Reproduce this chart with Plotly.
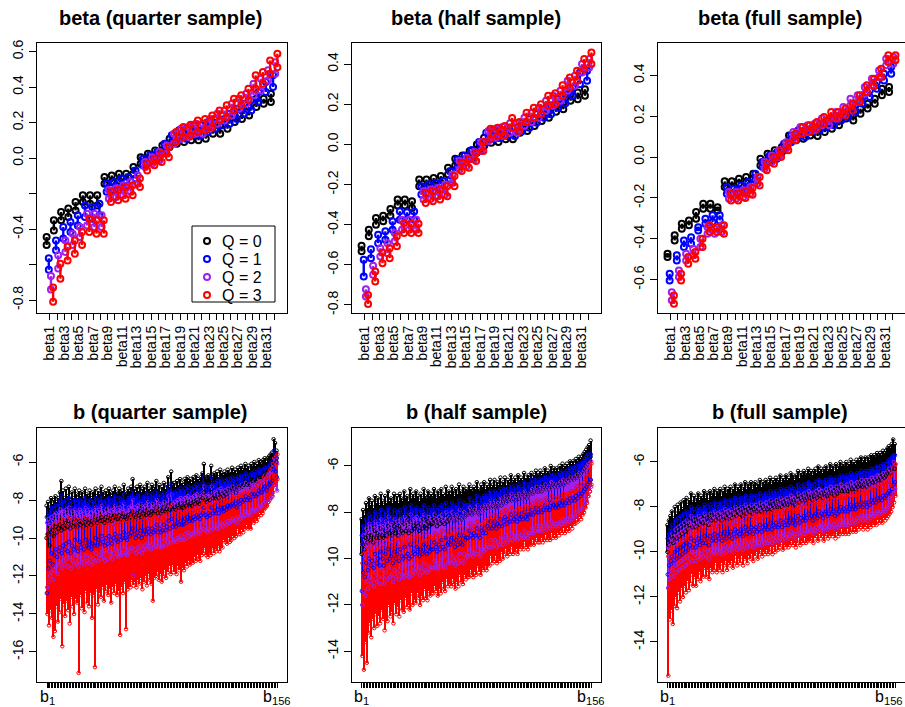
import plotly.graph_objects as go

FONT = "Liberation Sans, Arial, Helvetica, sans-serif"
COLORS = ["#000000", "#0000FF", "#A020F0", "#FF0000"]
Q_NAMES = ["Q = 0", "Q = 1", "Q = 2", "Q = 3"]

beta_cats = list(range(1, 33))
beta_ticktext = ["beta%d" % i if i % 2 == 1 else "" for i in beta_cats]
b_cats = list(range(1, 157))
b_end_labels = ["b<sub>1</sub>", "b<sub>156</sub>"]

# ---------------- beta, quarter sample (lo / hi of each box) ----------------
tq_q0_hi = [-0.445,-0.351,-0.304,-0.285,-0.248,-0.21,-0.21,-0.21,-0.107,-0.098,-0.088,-0.088,-0.05,0.005,0.024,0.043,0.071,0.109,0.118,0.137,0.146,0.146,0.156,0.175,0.184,0.22,0.24,0.268,0.287,0.334,0.334,0.362]
tq_q0_lo = [-0.49,-0.408,-0.351,-0.332,-0.295,-0.248,-0.257,-0.267,-0.145,-0.135,-0.126,-0.126,-0.088,-0.032,-0.004,0.005,0.024,0.062,0.08,0.09,0.1,0.1,0.109,0.137,0.137,0.165,0.203,0.22,0.24,0.287,0.306,0.315]
tq_q1_hi = [-0.565,-0.464,-0.389,-0.36,-0.323,-0.267,-0.276,-0.257,-0.145,-0.135,-0.116,-0.107,-0.07,-0.004,0.015,0.034,0.08,0.128,0.156,0.165,0.184,0.184,0.203,0.22,0.24,0.25,0.278,0.306,0.325,0.372,0.428,0.466]
tq_q1_lo = [-0.63,-0.52,-0.454,-0.417,-0.38,-0.332,-0.342,-0.323,-0.19,-0.18,-0.163,-0.154,-0.116,-0.041,-0.022,-0.004,0.034,0.08,0.1,0.109,0.128,0.128,0.146,0.165,0.184,0.193,0.22,0.25,0.268,0.315,0.372,0.4]
tq_q2_hi = [-0.665,-0.548,-0.464,-0.426,-0.389,-0.314,-0.314,-0.323,-0.18,-0.17,-0.154,-0.135,-0.098,-0.022,0.005,0.034,0.071,0.137,0.165,0.175,0.193,0.193,0.22,0.25,0.268,0.306,0.334,0.362,0.419,0.447,0.494,0.54]
tq_q2_lo = [-0.74,-0.623,-0.53,-0.49,-0.445,-0.38,-0.389,-0.389,-0.23,-0.22,-0.21,-0.19,-0.145,-0.05,-0.032,-0.013,0.024,0.08,0.109,0.118,0.137,0.137,0.165,0.193,0.212,0.24,0.278,0.306,0.353,0.381,0.437,0.475]
tq_q3_hi = [-0.73,-0.595,-0.5,-0.464,-0.417,-0.342,-0.351,-0.351,-0.19,-0.18,-0.163,-0.154,-0.116,-0.032,-0.004,0.024,0.062,0.146,0.175,0.188,0.212,0.22,0.24,0.268,0.297,0.334,0.353,0.39,0.466,0.484,0.55,0.588]
tq_q3_lo = [-0.81,-0.68,-0.577,-0.539,-0.49,-0.417,-0.426,-0.426,-0.248,-0.238,-0.229,-0.21,-0.163,-0.07,-0.041,-0.022,0.005,0.09,0.118,0.128,0.146,0.156,0.175,0.212,0.231,0.268,0.297,0.325,0.39,0.419,0.475,0.512]

# ---------------- beta, half sample ----------------
th_q0_hi = [-0.505,-0.425,-0.367,-0.355,-0.322,-0.275,-0.275,-0.283,-0.175,-0.175,-0.167,-0.158,-0.117,-0.072,-0.055,-0.033,0.0,0.033,0.05,0.05,0.055,0.058,0.092,0.1,0.125,0.15,0.167,0.192,0.208,0.25,0.258,0.275]
th_q0_lo = [-0.533,-0.458,-0.4,-0.383,-0.355,-0.305,-0.305,-0.317,-0.208,-0.208,-0.2,-0.192,-0.15,-0.105,-0.083,-0.067,-0.042,-0.008,0.008,0.012,0.025,0.025,0.058,0.067,0.092,0.117,0.133,0.162,0.175,0.217,0.225,0.242]
th_q1_hi = [-0.575,-0.522,-0.45,-0.433,-0.383,-0.333,-0.338,-0.335,-0.208,-0.2,-0.192,-0.183,-0.133,-0.075,-0.055,-0.028,0.012,0.058,0.072,0.075,0.083,0.083,0.108,0.125,0.15,0.175,0.195,0.225,0.25,0.283,0.358,0.367]
th_q1_lo = [-0.658,-0.567,-0.492,-0.475,-0.425,-0.375,-0.375,-0.375,-0.25,-0.242,-0.233,-0.225,-0.175,-0.117,-0.092,-0.072,-0.033,0.008,0.025,0.033,0.042,0.042,0.067,0.083,0.108,0.133,0.15,0.183,0.205,0.242,0.3,0.317]
th_q2_hi = [-0.722,-0.605,-0.517,-0.492,-0.442,-0.375,-0.375,-0.375,-0.233,-0.225,-0.217,-0.2,-0.15,-0.083,-0.067,-0.038,0.012,0.067,0.078,0.088,0.105,0.105,0.133,0.158,0.183,0.217,0.242,0.267,0.317,0.342,0.4,0.425]
th_q2_lo = [-0.758,-0.65,-0.558,-0.542,-0.483,-0.425,-0.425,-0.425,-0.275,-0.272,-0.258,-0.25,-0.192,-0.125,-0.108,-0.075,-0.033,0.017,0.033,0.042,0.058,0.058,0.092,0.112,0.133,0.167,0.192,0.217,0.267,0.292,0.358,0.383]
th_q3_hi = [-0.75,-0.633,-0.538,-0.517,-0.458,-0.392,-0.395,-0.395,-0.242,-0.233,-0.225,-0.208,-0.158,-0.092,-0.075,-0.042,0.012,0.078,0.083,0.092,0.132,0.112,0.158,0.183,0.2,0.242,0.255,0.295,0.333,0.367,0.425,0.458]
th_q3_lo = [-0.795,-0.683,-0.592,-0.567,-0.508,-0.442,-0.442,-0.442,-0.292,-0.283,-0.275,-0.258,-0.208,-0.133,-0.117,-0.083,-0.033,0.028,0.042,0.045,0.083,0.067,0.112,0.133,0.15,0.192,0.2,0.242,0.283,0.317,0.375,0.4]

# ---------------- beta, full sample ----------------
tf_q0_hi = [-0.473,-0.383,-0.326,-0.31,-0.269,-0.228,-0.228,-0.245,-0.119,-0.119,-0.106,-0.098,-0.082,-0.008,0.016,0.033,0.049,0.106,0.114,0.122,0.131,0.131,0.147,0.163,0.179,0.212,0.204,0.237,0.261,0.285,0.334,0.343]
tf_q0_lo = [-0.489,-0.408,-0.351,-0.334,-0.302,-0.253,-0.253,-0.261,-0.147,-0.147,-0.13,-0.122,-0.106,-0.041,-0.016,0.0,0.024,0.073,0.082,0.09,0.106,0.103,0.122,0.139,0.155,0.188,0.179,0.212,0.237,0.261,0.302,0.318]
tf_q1_hi = [-0.571,-0.481,-0.408,-0.392,-0.343,-0.302,-0.285,-0.285,-0.147,-0.155,-0.139,-0.122,-0.082,-0.024,0.008,0.024,0.065,0.106,0.131,0.126,0.147,0.163,0.179,0.188,0.212,0.228,0.253,0.294,0.326,0.367,0.408,0.44]
tf_q1_lo = [-0.604,-0.506,-0.44,-0.424,-0.359,-0.326,-0.318,-0.31,-0.179,-0.179,-0.171,-0.155,-0.114,-0.049,-0.024,-0.008,0.033,0.073,0.098,0.098,0.122,0.131,0.147,0.155,0.179,0.196,0.22,0.261,0.294,0.334,0.375,0.408]
tf_q2_hi = [-0.661,-0.555,-0.473,-0.449,-0.4,-0.343,-0.351,-0.334,-0.171,-0.171,-0.163,-0.147,-0.098,-0.024,0.008,0.033,0.073,0.122,0.147,0.155,0.163,0.188,0.188,0.22,0.245,0.285,0.302,0.343,0.383,0.424,0.481,0.49]
tf_q2_lo = [-0.701,-0.587,-0.506,-0.481,-0.44,-0.375,-0.375,-0.367,-0.204,-0.204,-0.196,-0.179,-0.13,-0.057,-0.024,0.0,0.041,0.09,0.114,0.122,0.131,0.155,0.155,0.188,0.212,0.253,0.269,0.31,0.351,0.392,0.449,0.457]
tf_q3_hi = [-0.677,-0.571,-0.489,-0.465,-0.4,-0.334,-0.343,-0.334,-0.179,-0.179,-0.168,-0.152,-0.098,-0.033,0.0,0.033,0.065,0.114,0.147,0.155,0.171,0.196,0.22,0.22,0.237,0.261,0.302,0.351,0.383,0.432,0.498,0.498]
tf_q3_lo = [-0.718,-0.604,-0.522,-0.498,-0.44,-0.367,-0.367,-0.375,-0.212,-0.212,-0.2,-0.184,-0.139,-0.065,-0.033,0.0,0.033,0.082,0.114,0.122,0.139,0.163,0.188,0.188,0.204,0.228,0.269,0.318,0.347,0.392,0.465,0.473]

# ---------------- b, quarter sample (whisker ends of each box) ----------------
bq_q0_hi = [-8.3,-8.1,-8.4,-7.9,-8.2,-8.0,-7.8,-8.1,-7.9,-7.6,-7.0,-7.5,-7.9,-7.4,-7.8,-7.3,-8.0,-7.6,-7.9,-7.4,-7.7,-7.9,-7.5,-7.8,-7.6,-7.9,-7.4,-7.7,-7.8,-7.5,-7.9,-7.6,-7.7,-7.4,-7.8,-7.5,-7.7,-7.3,-7.6,-7.8,-7.5,-7.7,-7.4,-7.6,-7.8,-7.5,-7.3,-7.6,-7.7,-7.4,-7.6,-7.5,-7.2,-7.6,-7.7,-7.4,-7.5,-7.3,-6.9,-7.4,-7.6,-7.3,-7.5,-7.2,-7.6,-7.4,-7.3,-7.5,-7.1,-7.4,-7.5,-7.2,-7.4,-7.3,-7.0,-7.4,-7.2,-7.5,-7.3,-7.1,-7.4,-7.2,-6.8,-7.3,-6.5,-7.2,-7.1,-7.3,-7.0,-7.2,-6.9,-7.1,-7.2,-6.9,-7.1,-6.8,-7.0,-6.9,-7.1,-6.8,-7.0,-6.7,-6.9,-7.0,-6.8,-6.6,-6.1,-6.8,-6.9,-6.7,-6.8,-6.2,-6.8,-6.6,-6.7,-6.5,-6.8,-6.4,-6.6,-6.7,-6.5,-6.6,-6.4,-6.6,-6.5,-6.3,-6.5,-6.4,-6.6,-6.3,-6.4,-6.2,-6.4,-6.3,-6.1,-6.3,-6.2,-6.4,-6.1,-6.2,-6.0,-6.2,-6.1,-5.9,-6.0,-6.1,-5.9,-5.8,-6.0,-5.8,-5.7,-5.6,-5.5,-4.8,-5.0,-5.4]
bq_q0_lo = [-10.0,-9.8,-10.4,-9.7,-9.6,-9.9,-9.4,-9.7,-9.5,-9.3,-9.6,-9.4,-9.5,-9.2,-9.4,-9.1,-9.5,-9.3,-9.4,-9.0,-9.3,-9.4,-9.1,-9.3,-9.2,-9.4,-9.0,-9.3,-9.2,-9.0,-9.3,-9.1,-9.2,-8.9,-9.2,-9.0,-9.1,-8.9,-9.1,-9.2,-8.9,-9.1,-8.8,-9.0,-9.1,-8.9,-8.8,-9.0,-9.0,-8.8,-9.0,-8.9,-8.7,-8.9,-9.0,-8.8,-8.9,-8.7,-8.6,-8.8,-8.9,-8.7,-8.8,-8.6,-8.9,-8.7,-8.6,-8.8,-8.5,-8.7,-8.8,-8.6,-8.7,-8.6,-8.4,-8.7,-8.5,-8.7,-8.6,-8.4,-8.6,-8.5,-8.3,-8.5,-8.2,-8.5,-8.4,-8.5,-8.3,-8.4,-8.2,-8.4,-8.4,-8.2,-8.3,-8.1,-8.3,-8.2,-8.3,-8.1,-8.2,-8.0,-8.1,-8.2,-8.0,-7.9,-7.6,-8.0,-8.1,-7.9,-8.0,-7.6,-7.9,-7.8,-7.9,-7.7,-7.9,-7.6,-7.7,-7.8,-7.6,-7.7,-7.5,-7.6,-7.5,-7.4,-7.5,-7.4,-7.6,-7.3,-7.4,-7.2,-7.3,-7.2,-7.0,-7.2,-7.1,-7.2,-6.9,-7.0,-6.9,-7.0,-6.9,-6.7,-6.8,-6.8,-6.6,-6.5,-6.7,-6.5,-6.4,-6.3,-6.2,-5.6,-5.7,-6.0]
bq_q1_hi = [-8.9,-8.6,-8.8,-8.4,-8.7,-8.5,-8.3,-8.6,-8.2,-8.0,-7.8,-8.1,-8.4,-8.0,-8.3,-7.9,-8.5,-8.1,-8.4,-8.0,-8.2,-8.4,-8.0,-8.3,-8.1,-8.4,-7.9,-8.2,-8.3,-8.0,-8.4,-8.1,-8.2,-7.9,-8.3,-8.0,-8.2,-7.8,-8.1,-8.3,-8.0,-8.2,-7.9,-8.1,-8.3,-8.0,-7.8,-8.1,-8.2,-7.9,-8.1,-8.0,-7.7,-8.1,-8.2,-7.9,-8.0,-7.8,-7.5,-7.9,-8.1,-7.8,-8.0,-7.7,-8.1,-7.9,-7.8,-8.0,-7.6,-7.9,-8.0,-7.7,-7.9,-7.8,-7.5,-7.9,-7.7,-8.0,-7.8,-7.6,-7.9,-7.7,-7.3,-7.8,-7.1,-7.7,-7.6,-7.8,-7.5,-7.7,-7.4,-7.6,-7.7,-7.4,-7.6,-7.3,-7.5,-7.4,-7.6,-7.3,-7.5,-7.2,-7.4,-7.5,-7.3,-7.1,-6.8,-7.3,-7.4,-7.2,-7.3,-6.8,-7.3,-7.1,-7.2,-7.0,-7.3,-6.9,-7.1,-7.2,-7.0,-7.1,-6.9,-7.1,-7.0,-6.8,-7.0,-6.9,-7.1,-6.8,-6.9,-6.7,-6.9,-6.8,-6.6,-6.8,-6.7,-6.9,-6.6,-6.7,-6.5,-6.7,-6.6,-6.4,-6.5,-6.6,-6.4,-6.3,-6.5,-6.3,-6.2,-6.1,-6.0,-5.4,-5.5,-5.8]
bq_q1_lo = [-12.9,-11.6,-11.2,-10.8,-11.4,-10.9,-10.6,-11.0,-10.7,-10.5,-10.8,-10.4,-10.6,-10.3,-10.7,-10.2,-10.8,-10.4,-10.6,-10.1,-10.5,-10.7,-10.2,-10.5,-10.3,-10.6,-10.1,-10.4,-10.5,-10.2,-10.6,-10.3,-10.4,-10.0,-10.4,-10.1,-10.3,-9.9,-10.2,-10.4,-10.0,-10.3,-9.9,-10.1,-10.3,-10.0,-9.8,-10.1,-10.2,-9.9,-10.1,-10.0,-9.7,-10.0,-10.1,-9.8,-9.9,-9.7,-9.5,-9.8,-10.0,-9.7,-9.9,-9.6,-10.0,-9.8,-9.6,-9.8,-9.5,-9.7,-9.8,-9.5,-9.7,-9.6,-9.3,-9.7,-9.5,-9.7,-9.6,-9.3,-9.6,-9.4,-9.1,-9.5,-9.0,-9.4,-9.3,-9.4,-9.2,-9.3,-9.1,-9.3,-9.3,-9.0,-9.2,-8.9,-9.1,-9.0,-9.1,-8.9,-9.0,-8.8,-8.9,-9.0,-8.8,-8.7,-8.4,-8.8,-8.9,-8.7,-8.8,-8.4,-8.7,-8.6,-8.7,-8.5,-8.7,-8.4,-8.5,-8.6,-8.4,-8.5,-8.3,-8.4,-8.3,-8.2,-8.3,-8.2,-8.4,-8.1,-8.2,-8.0,-8.1,-8.0,-7.8,-8.0,-7.9,-8.0,-7.7,-7.8,-7.7,-7.8,-7.7,-7.5,-7.6,-7.6,-7.4,-7.3,-7.5,-7.3,-7.2,-7.1,-7.0,-6.4,-6.5,-6.8]
bq_q2_hi = [-9.2,-9.0,-9.3,-8.9,-9.1,-8.8,-8.7,-9.0,-8.7,-8.5,-8.6,-8.6,-8.9,-8.5,-8.8,-8.4,-9.0,-8.6,-8.9,-8.5,-8.7,-8.9,-8.5,-8.8,-8.6,-8.9,-8.4,-8.7,-8.8,-8.5,-8.9,-8.6,-8.7,-8.4,-8.8,-8.5,-8.7,-8.3,-8.6,-8.8,-8.5,-8.7,-8.4,-8.6,-8.8,-8.5,-8.3,-8.6,-8.7,-8.4,-8.6,-8.5,-8.2,-8.6,-8.7,-8.4,-8.5,-8.3,-8.0,-8.4,-8.6,-8.3,-8.5,-8.2,-8.6,-8.4,-8.3,-8.5,-8.1,-8.4,-8.5,-8.2,-8.4,-8.3,-8.0,-8.4,-8.2,-8.5,-8.3,-8.1,-8.4,-8.2,-7.8,-8.3,-7.7,-8.2,-8.1,-8.3,-8.0,-8.2,-7.9,-8.1,-8.2,-7.9,-8.1,-7.8,-8.0,-7.9,-8.1,-7.8,-8.0,-7.7,-7.9,-8.0,-7.8,-7.6,-7.3,-7.8,-7.9,-7.7,-7.8,-7.3,-7.8,-7.6,-7.7,-7.5,-7.8,-7.4,-7.6,-7.7,-7.5,-7.6,-7.4,-7.6,-7.5,-7.3,-7.5,-7.4,-7.6,-7.3,-7.4,-7.2,-7.4,-7.3,-7.1,-7.3,-7.2,-7.4,-7.1,-7.2,-7.0,-7.2,-7.1,-6.9,-7.0,-7.0,-6.8,-6.7,-6.9,-6.7,-6.6,-6.5,-6.3,-5.8,-5.9,-6.1]
bq_q2_lo = [-12.6,-12.3,-12.0,-11.8,-12.2,-11.7,-11.5,-11.9,-11.4,-11.3,-11.6,-11.2,-11.4,-11.1,-11.5,-11.0,-11.6,-11.2,-11.4,-10.9,-11.3,-11.5,-11.0,-11.3,-11.1,-11.4,-10.9,-11.2,-11.3,-11.0,-11.4,-11.1,-11.2,-10.8,-11.2,-10.9,-11.1,-10.7,-11.0,-11.2,-10.8,-11.1,-10.7,-10.9,-11.1,-10.8,-10.6,-10.9,-11.0,-10.7,-10.9,-10.8,-10.5,-10.8,-10.9,-10.6,-10.7,-10.5,-12.0,-10.6,-10.8,-10.5,-10.7,-10.4,-10.8,-10.6,-10.4,-10.6,-10.3,-10.5,-10.6,-10.3,-10.5,-10.4,-10.1,-10.5,-10.3,-10.5,-10.4,-10.1,-10.4,-10.2,-9.9,-10.3,-9.8,-10.2,-10.1,-10.2,-10.0,-10.1,-9.9,-10.1,-10.1,-9.8,-10.0,-9.7,-9.9,-9.8,-9.9,-9.7,-9.8,-9.6,-9.7,-9.8,-9.6,-9.5,-9.2,-9.6,-9.7,-9.5,-9.6,-9.2,-9.5,-9.4,-9.5,-9.3,-9.5,-9.2,-9.3,-9.4,-9.2,-9.3,-9.1,-9.2,-9.1,-9.0,-9.1,-9.0,-9.2,-8.9,-9.0,-8.8,-8.9,-8.8,-8.6,-8.8,-8.7,-8.8,-8.5,-8.6,-8.5,-8.6,-8.5,-8.3,-8.4,-8.4,-8.2,-8.1,-8.3,-8.1,-8.0,-7.9,-7.8,-7.2,-7.3,-7.5]
bq_q3_hi = [-9.8,-9.6,-9.9,-9.4,-9.7,-9.3,-9.2,-9.6,-9.2,-9.0,-9.3,-9.1,-9.4,-9.0,-9.3,-8.9,-9.5,-9.1,-9.4,-9.0,-9.2,-9.4,-9.0,-9.3,-9.1,-9.4,-8.9,-9.2,-9.3,-9.0,-9.4,-9.1,-9.2,-8.9,-9.3,-9.0,-9.2,-8.8,-9.1,-9.3,-9.0,-9.2,-8.9,-9.1,-9.3,-9.0,-8.8,-9.1,-9.2,-8.9,-9.1,-9.0,-8.7,-9.1,-9.2,-8.9,-9.0,-8.8,-8.6,-8.9,-9.1,-8.8,-9.0,-8.7,-9.1,-8.9,-8.8,-9.0,-8.6,-8.9,-9.0,-8.7,-8.9,-8.8,-8.5,-8.9,-8.7,-9.0,-8.8,-8.6,-8.9,-8.7,-8.4,-8.8,-8.3,-8.7,-8.6,-8.8,-8.5,-8.7,-8.4,-8.6,-8.7,-8.4,-8.6,-8.3,-8.5,-8.4,-8.6,-8.3,-8.5,-8.2,-8.4,-8.5,-8.3,-8.1,-7.9,-8.3,-8.4,-8.2,-8.3,-7.9,-8.3,-8.1,-8.2,-8.0,-8.3,-7.9,-8.1,-8.2,-8.0,-8.1,-7.9,-8.1,-8.0,-7.8,-8.0,-7.9,-8.1,-7.8,-7.9,-7.7,-7.8,-7.7,-7.5,-7.7,-7.6,-7.7,-7.4,-7.5,-7.3,-7.4,-7.2,-7.0,-7.1,-7.0,-6.8,-6.7,-6.8,-6.6,-6.4,-6.3,-6.1,-5.8,-5.7,-5.6]
bq_q3_lo = [-14.0,-14.6,-13.8,-14.2,-15.2,-14.9,-13.6,-14.4,-13.9,-13.2,-15.7,-13.5,-14.1,-13.3,-13.8,-14.5,-13.1,-13.6,-14.0,-13.2,-13.4,-17.1,-13.0,-13.7,-13.2,-13.9,-12.8,-13.4,-13.6,-12.9,-14.2,-13.0,-16.8,-12.7,-13.5,-12.9,-13.1,-12.6,-13.3,-12.8,-12.5,-13.0,-12.7,-13.4,-12.6,-12.9,-12.4,-13.0,-12.8,-15.1,-12.6,-12.9,-12.3,-14.8,-12.7,-12.4,-12.6,-12.2,-12.5,-12.3,-12.6,-12.2,-12.4,-12.1,-12.7,-12.3,-12.0,-12.5,-11.9,-12.2,-12.4,-13.3,-12.1,-12.0,-11.8,-12.2,-11.9,-12.3,-12.0,-11.7,-12.1,-11.8,-11.5,-11.9,-11.4,-11.8,-11.6,-11.9,-11.5,-11.7,-12.3,-11.6,-11.7,-11.3,-11.5,-11.2,-11.4,-11.2,-11.3,-11.0,-11.2,-10.9,-11.1,-11.2,-10.9,-10.8,-10.5,-10.9,-11.0,-10.8,-10.9,-10.5,-10.8,-10.6,-10.7,-10.4,-10.7,-10.3,-10.5,-10.1,-10.2,-10.3,-10.0,-10.2,-10.1,-9.9,-10.0,-9.9,-9.5,-9.8,-9.8,-9.6,-9.7,-9.5,-9.3,-9.5,-9.4,-9.5,-9.1,-9.2,-9.0,-9.1,-8.9,-8.7,-8.8,-8.7,-8.5,-8.4,-8.3,-8.1,-7.9,-7.8,-7.6,-7.2,-7.0,-6.9]

# ---------------- b, half sample ----------------
bh_q0_hi = [-8.3,-7.9,-8.1,-7.6,-7.8,-7.4,-7.7,-7.5,-7.8,-7.3,-7.6,-7.4,-7.7,-7.2,-7.5,-7.7,-7.3,-7.6,-7.1,-7.5,-7.4,-7.6,-7.2,-7.5,-7.3,-7.6,-7.2,-7.4,-7.5,-7.1,-7.4,-7.3,-7.5,-7.0,-7.4,-7.2,-7.4,-7.1,-7.3,-7.5,-7.2,-7.4,-7.0,-7.3,-7.4,-7.1,-7.3,-7.2,-7.3,-7.0,-7.2,-7.4,-7.1,-7.3,-7.0,-7.2,-7.3,-6.9,-7.2,-7.1,-7.2,-6.9,-7.1,-7.3,-7.0,-7.2,-6.8,-7.1,-7.2,-6.9,-7.1,-7.0,-7.1,-6.8,-7.0,-7.1,-6.9,-7.0,-6.7,-7.0,-7.1,-6.8,-6.9,-6.7,-7.0,-6.8,-6.9,-6.6,-6.9,-6.8,-6.6,-6.9,-6.7,-6.8,-6.5,-6.8,-6.7,-6.5,-6.8,-6.6,-6.7,-6.4,-6.7,-6.6,-6.5,-6.7,-6.4,-6.6,-6.5,-6.6,-6.3,-6.5,-6.6,-6.4,-6.5,-6.3,-6.5,-6.4,-6.2,-6.4,-6.4,-6.2,-6.4,-6.3,-6.1,-6.3,-6.2,-6.3,-6.0,-6.2,-6.1,-6.2,-6.1,-6.2,-6.0,-6.1,-5.9,-6.1,-6.0,-5.9,-6.0,-5.8,-5.9,-5.8,-5.9,-5.7,-5.8,-5.6,-5.7,-5.6,-5.5,-5.4,-5.3,-5.2,-5.1,-4.9]
bh_q0_lo = [-9.8,-9.4,-9.6,-9.1,-9.3,-8.9,-9.2,-9.0,-9.3,-8.8,-9.1,-8.9,-9.1,-8.7,-9.0,-9.1,-8.8,-9.0,-8.6,-8.9,-8.8,-9.0,-8.6,-8.9,-8.7,-9.0,-8.6,-8.8,-8.9,-8.5,-8.8,-8.7,-8.9,-8.4,-8.8,-8.6,-8.7,-8.5,-8.6,-8.8,-8.5,-8.7,-8.3,-8.6,-8.7,-8.4,-8.6,-8.5,-8.5,-8.3,-8.4,-8.6,-8.3,-8.5,-8.2,-8.4,-8.5,-8.1,-8.4,-8.3,-8.3,-8.1,-8.2,-8.4,-8.1,-8.3,-7.9,-8.2,-8.3,-8.0,-8.2,-8.1,-8.1,-7.9,-8.0,-8.1,-7.9,-8.0,-7.7,-8.0,-8.1,-7.8,-7.9,-7.7,-7.9,-7.7,-7.8,-7.5,-7.8,-7.7,-7.5,-7.8,-7.6,-7.7,-7.4,-7.7,-7.5,-7.3,-7.6,-7.4,-7.5,-7.2,-7.5,-7.4,-7.3,-7.5,-7.2,-7.4,-7.3,-7.4,-7.1,-7.3,-7.4,-7.2,-7.2,-7.0,-7.2,-7.1,-6.9,-7.1,-7.1,-6.9,-7.1,-7.0,-6.8,-7.0,-6.9,-7.0,-6.7,-6.9,-6.8,-6.9,-6.8,-6.9,-6.7,-6.8,-6.6,-6.8,-6.7,-6.6,-6.7,-6.5,-6.6,-6.5,-6.6,-6.4,-6.5,-6.3,-6.4,-6.3,-6.2,-6.1,-6.0,-5.9,-5.8,-5.6]
bh_q1_hi = [-9.0,-8.6,-8.8,-8.3,-8.5,-8.1,-8.4,-8.2,-8.5,-8.0,-8.3,-8.1,-8.4,-7.9,-8.2,-8.4,-8.0,-8.3,-7.8,-8.2,-8.1,-8.3,-7.9,-8.2,-8.0,-8.3,-7.9,-8.1,-8.2,-7.8,-8.1,-8.0,-8.2,-7.7,-8.1,-7.9,-8.1,-7.8,-8.0,-8.2,-7.9,-8.1,-7.7,-8.0,-8.1,-7.8,-8.0,-7.9,-8.0,-7.7,-7.9,-8.1,-7.8,-8.0,-7.7,-7.9,-8.0,-7.6,-7.9,-7.8,-7.9,-7.6,-7.8,-8.0,-7.7,-7.9,-7.5,-7.8,-7.9,-7.6,-7.8,-7.7,-7.7,-7.4,-7.6,-7.7,-7.5,-7.6,-7.3,-7.6,-7.7,-7.4,-7.5,-7.3,-7.5,-7.3,-7.4,-7.1,-7.4,-7.3,-7.1,-7.4,-7.2,-7.3,-7.0,-7.3,-7.1,-6.9,-7.2,-7.0,-7.1,-6.8,-7.1,-7.0,-6.9,-7.1,-6.8,-7.0,-6.9,-7.0,-6.7,-6.9,-7.0,-6.8,-6.8,-6.6,-6.8,-6.7,-6.5,-6.7,-6.7,-6.5,-6.7,-6.6,-6.4,-6.6,-6.5,-6.6,-6.3,-6.5,-6.4,-6.5,-6.4,-6.5,-6.3,-6.4,-6.2,-6.4,-6.3,-6.2,-6.3,-6.1,-6.2,-6.1,-6.2,-6.0,-6.1,-5.9,-6.0,-5.9,-5.8,-5.7,-5.6,-5.5,-5.6,-5.5]
bh_q1_lo = [-11.4,-10.6,-10.8,-10.2,-10.5,-10.0,-10.3,-10.1,-10.4,-9.8,-10.2,-10.0,-10.3,-9.7,-10.0,-10.3,-9.8,-10.1,-9.6,-10.0,-9.9,-10.2,-9.7,-10.0,-9.8,-10.1,-9.6,-9.9,-10.0,-9.5,-9.9,-9.8,-10.0,-9.4,-9.9,-9.7,-9.8,-9.5,-9.7,-9.9,-9.6,-9.8,-9.4,-9.7,-9.8,-9.5,-9.7,-9.6,-9.6,-9.3,-9.5,-9.7,-9.4,-9.6,-9.2,-9.5,-9.6,-9.1,-9.4,-9.3,-9.4,-9.1,-9.3,-9.5,-9.2,-9.4,-9.0,-9.3,-9.4,-9.0,-9.2,-9.1,-9.1,-8.8,-9.0,-9.1,-8.9,-9.0,-8.7,-9.0,-9.1,-8.8,-8.9,-8.7,-8.9,-8.6,-8.7,-8.4,-8.7,-8.6,-8.4,-8.7,-8.5,-8.6,-8.3,-8.6,-8.4,-8.2,-8.5,-8.3,-8.4,-8.1,-8.4,-8.3,-8.2,-8.4,-8.1,-8.3,-8.2,-8.3,-8.0,-8.2,-8.3,-8.1,-8.1,-7.9,-8.1,-8.0,-7.8,-8.0,-8.0,-7.8,-8.0,-7.9,-7.7,-7.9,-7.8,-7.9,-7.6,-7.8,-7.7,-7.8,-7.7,-7.8,-7.6,-7.7,-7.5,-7.7,-7.6,-7.5,-7.6,-7.4,-7.5,-7.4,-7.5,-7.3,-7.4,-7.2,-7.3,-7.2,-7.1,-7.0,-6.9,-6.8,-6.7,-6.6]
bh_q2_hi = [-9.4,-9.0,-9.2,-8.7,-8.9,-8.5,-8.8,-8.6,-8.9,-8.4,-8.7,-8.5,-8.8,-8.3,-8.6,-8.8,-8.4,-8.7,-8.2,-8.6,-8.5,-8.7,-8.3,-8.6,-8.4,-8.7,-8.3,-8.5,-8.6,-8.2,-8.5,-8.4,-8.6,-8.1,-8.5,-8.3,-8.5,-8.2,-8.4,-8.6,-8.3,-8.5,-8.1,-8.4,-8.5,-8.2,-8.4,-8.3,-8.4,-8.1,-8.3,-8.5,-8.2,-8.4,-8.1,-8.3,-8.4,-8.0,-8.3,-8.2,-8.3,-8.0,-8.2,-8.4,-8.1,-8.3,-7.9,-8.2,-8.3,-8.0,-8.2,-8.1,-8.1,-7.8,-8.0,-8.1,-7.9,-8.0,-7.7,-8.0,-8.1,-7.8,-7.9,-7.7,-7.9,-7.7,-7.8,-7.5,-7.8,-7.7,-7.5,-7.8,-7.6,-7.7,-7.4,-7.7,-7.5,-7.3,-7.6,-7.4,-7.5,-7.2,-7.5,-7.4,-7.3,-7.5,-7.2,-7.4,-7.3,-7.4,-7.1,-7.3,-7.4,-7.2,-7.2,-7.0,-7.2,-7.1,-6.9,-7.1,-7.1,-6.9,-7.1,-7.0,-6.8,-7.0,-6.9,-7.0,-6.7,-6.9,-6.8,-6.9,-6.8,-6.9,-6.7,-6.8,-6.6,-6.8,-6.7,-6.6,-6.7,-6.5,-6.6,-6.5,-6.6,-6.4,-6.5,-6.3,-6.4,-6.3,-6.2,-6.1,-6.0,-5.9,-5.9,-5.8]
bh_q2_lo = [-12.0,-11.4,-11.6,-11.0,-11.3,-10.8,-11.1,-10.9,-11.2,-10.6,-11.0,-10.8,-11.1,-10.5,-10.8,-11.1,-10.6,-10.9,-10.4,-10.8,-10.7,-11.0,-10.5,-10.8,-10.6,-10.9,-10.4,-10.7,-10.8,-10.3,-10.7,-10.6,-10.8,-10.2,-10.7,-10.5,-10.6,-10.3,-10.5,-10.7,-10.4,-10.6,-10.2,-10.5,-10.6,-10.3,-10.5,-10.4,-10.4,-10.1,-10.3,-10.5,-10.2,-10.4,-10.0,-10.3,-10.4,-9.9,-10.2,-10.1,-10.2,-9.9,-10.1,-10.3,-10.0,-10.2,-9.8,-10.1,-10.2,-9.8,-10.0,-9.9,-9.9,-9.6,-9.8,-9.9,-9.7,-9.8,-9.5,-9.8,-9.9,-9.6,-9.7,-9.5,-9.6,-9.4,-9.5,-9.2,-9.5,-9.4,-9.2,-9.5,-9.3,-9.4,-9.1,-9.4,-9.2,-9.0,-9.3,-9.1,-9.2,-8.9,-9.2,-9.1,-9.0,-9.2,-8.9,-9.1,-9.0,-9.1,-8.8,-9.0,-9.1,-8.9,-8.9,-8.7,-8.9,-8.8,-8.6,-8.8,-8.8,-8.6,-8.8,-8.7,-8.5,-8.7,-8.6,-8.7,-8.4,-8.6,-8.5,-8.6,-8.5,-8.6,-8.4,-8.5,-8.3,-8.5,-8.4,-8.3,-8.4,-8.2,-8.3,-8.2,-8.2,-8.0,-8.1,-7.9,-8.0,-7.9,-7.8,-7.6,-7.5,-7.3,-7.1,-6.9]
bh_q3_hi = [-10.2,-9.8,-10.0,-9.5,-9.7,-9.3,-9.6,-9.4,-9.7,-9.2,-9.5,-9.3,-9.6,-9.1,-9.4,-9.6,-9.2,-9.5,-9.0,-9.4,-9.3,-9.5,-9.1,-9.4,-9.2,-9.5,-9.1,-9.3,-9.4,-9.0,-9.3,-9.2,-9.4,-8.9,-9.3,-9.1,-9.3,-9.0,-9.2,-9.4,-9.1,-9.3,-8.9,-9.2,-9.3,-9.0,-9.2,-9.1,-9.2,-8.9,-9.1,-9.3,-9.0,-9.2,-8.8,-9.1,-9.2,-8.8,-9.0,-8.9,-9.0,-8.7,-8.9,-9.1,-8.8,-9.0,-8.6,-8.9,-9.0,-8.7,-8.9,-8.8,-8.8,-8.5,-8.7,-8.8,-8.6,-8.7,-8.4,-8.7,-8.8,-8.5,-8.6,-8.4,-8.6,-8.3,-8.4,-8.1,-8.4,-8.3,-8.1,-8.4,-8.2,-8.3,-8.0,-8.3,-8.1,-7.9,-8.2,-8.0,-8.1,-7.8,-8.1,-8.0,-7.9,-8.1,-7.8,-8.0,-7.9,-8.0,-7.7,-7.9,-8.0,-7.8,-7.8,-7.6,-7.8,-7.7,-7.5,-7.7,-7.7,-7.5,-7.7,-7.6,-7.4,-7.6,-7.5,-7.6,-7.3,-7.5,-7.4,-7.5,-7.4,-7.5,-7.3,-7.4,-7.2,-7.4,-7.3,-7.2,-7.3,-7.1,-7.2,-7.1,-7.1,-6.9,-7.0,-6.8,-6.9,-6.8,-6.7,-6.5,-6.4,-6.2,-6.1,-5.9]
bh_q3_lo = [-14.2,-14.8,-13.6,-14.5,-13.2,-12.8,-13.4,-12.6,-13.0,-12.4,-12.9,-12.5,-12.8,-12.2,-12.6,-13.1,-12.3,-12.7,-12.0,-12.5,-12.3,-12.8,-11.9,-12.4,-12.1,-12.5,-11.8,-12.2,-12.3,-11.7,-12.1,-12.0,-12.2,-11.5,-12.0,-11.8,-11.9,-11.5,-11.7,-12.0,-11.6,-11.8,-11.3,-11.7,-11.8,-11.4,-11.6,-11.5,-11.5,-11.2,-11.4,-11.6,-11.3,-11.5,-11.0,-11.3,-11.4,-10.9,-11.2,-11.1,-11.2,-10.9,-11.1,-11.3,-11.0,-11.2,-10.7,-11.0,-11.1,-10.7,-10.9,-10.8,-10.8,-10.5,-10.7,-10.8,-10.6,-10.7,-10.3,-10.6,-10.7,-10.4,-10.5,-10.3,-10.5,-10.2,-10.3,-9.9,-10.2,-10.1,-9.9,-10.2,-10.0,-10.1,-9.7,-10.0,-9.8,-9.6,-9.9,-9.7,-9.8,-9.5,-9.8,-9.7,-9.6,-9.8,-9.4,-9.6,-9.5,-9.6,-9.3,-9.5,-9.6,-9.4,-9.4,-9.2,-9.4,-9.3,-9.1,-9.3,-9.3,-9.1,-9.3,-9.2,-9.0,-9.2,-9.1,-9.2,-8.9,-9.1,-9.0,-9.1,-8.9,-9.0,-8.8,-8.9,-8.7,-8.9,-8.8,-8.7,-8.8,-8.6,-8.7,-8.5,-8.5,-8.3,-8.4,-8.2,-8.3,-8.1,-8.0,-7.8,-7.6,-7.3,-7.1,-6.8]

# ---------------- b, full sample ----------------
bf_q0_hi = [-8.8,-8.6,-8.4,-8.2,-8.5,-8.0,-8.3,-7.9,-8.2,-7.8,-8.1,-7.7,-8.0,-7.6,-7.9,-7.7,-7.4,-7.8,-7.5,-7.8,-7.6,-7.4,-7.7,-7.5,-7.6,-7.3,-7.6,-7.4,-7.7,-7.3,-7.5,-7.4,-7.2,-7.5,-7.3,-7.4,-7.2,-7.5,-7.3,-7.1,-7.4,-7.2,-7.3,-7.1,-7.4,-7.2,-7.0,-7.3,-7.1,-7.2,-7.0,-7.3,-7.1,-6.9,-7.2,-7.0,-7.1,-6.9,-7.2,-7.0,-6.9,-7.1,-7.0,-6.8,-7.1,-6.9,-7.0,-6.8,-7.0,-6.9,-6.7,-7.0,-6.8,-6.9,-6.7,-6.9,-6.8,-6.6,-6.9,-6.7,-6.8,-6.6,-6.8,-6.7,-6.5,-6.7,-6.6,-6.8,-6.6,-6.4,-6.7,-6.5,-6.6,-6.4,-6.6,-6.5,-6.3,-6.5,-6.4,-6.6,-6.4,-6.3,-6.5,-6.2,-6.4,-6.3,-6.5,-6.3,-6.2,-6.4,-6.3,-6.1,-6.3,-6.2,-6.4,-6.1,-6.3,-6.2,-6.0,-6.2,-6.1,-6.2,-6.0,-6.2,-6.1,-5.9,-6.1,-6.0,-6.1,-5.9,-6.0,-5.9,-5.8,-6.0,-5.9,-5.8,-6.0,-5.8,-5.9,-5.7,-5.8,-5.7,-5.8,-5.6,-5.7,-5.6,-5.7,-5.5,-5.6,-5.5,-5.4,-5.3,-5.4,-5.2,-5.0,-5.2]
bf_q0_lo = [-10.0,-9.7,-9.5,-9.3,-9.6,-9.1,-9.4,-9.0,-9.3,-8.9,-9.2,-8.8,-9.1,-8.7,-9.0,-8.8,-8.5,-8.9,-8.6,-8.9,-8.7,-8.5,-8.8,-8.6,-8.7,-8.4,-8.7,-8.5,-8.8,-8.4,-8.6,-8.5,-8.3,-8.6,-8.4,-8.5,-8.3,-8.6,-8.4,-8.2,-8.5,-8.3,-8.4,-8.2,-8.5,-8.3,-8.1,-8.4,-8.2,-8.3,-8.1,-8.4,-8.2,-8.0,-8.3,-8.1,-8.2,-8.0,-8.3,-8.1,-8.0,-8.2,-8.1,-7.9,-8.2,-8.0,-8.1,-7.9,-8.1,-8.0,-7.8,-8.1,-7.9,-8.0,-7.8,-8.0,-7.9,-7.7,-8.0,-7.8,-7.9,-7.7,-7.9,-7.8,-7.6,-7.8,-7.7,-7.9,-7.7,-7.5,-7.8,-7.6,-7.7,-7.5,-7.7,-7.6,-7.4,-7.6,-7.5,-7.7,-7.5,-7.4,-7.6,-7.3,-7.5,-7.4,-7.6,-7.4,-7.3,-7.5,-7.4,-7.2,-7.4,-7.3,-7.5,-7.2,-7.4,-7.3,-7.1,-7.3,-7.2,-7.3,-7.1,-7.3,-7.2,-7.0,-7.2,-7.1,-7.2,-7.0,-7.1,-7.0,-6.9,-7.1,-7.0,-6.9,-7.1,-6.9,-7.0,-6.8,-6.9,-6.8,-6.9,-6.7,-6.8,-6.7,-6.8,-6.6,-6.7,-6.6,-6.5,-6.4,-6.5,-6.3,-6.1,-6.3]
bf_q1_hi = [-9.4,-9.2,-9.0,-8.8,-9.1,-8.6,-8.9,-8.5,-8.8,-8.4,-8.7,-8.3,-8.6,-8.2,-8.5,-8.3,-8.0,-8.4,-8.1,-8.4,-8.2,-8.0,-8.3,-8.1,-8.2,-7.9,-8.2,-8.0,-8.3,-7.9,-8.1,-8.0,-7.8,-8.1,-7.9,-8.0,-7.8,-8.1,-7.9,-7.7,-8.0,-7.8,-7.9,-7.7,-8.0,-7.8,-7.6,-7.9,-7.7,-7.8,-7.6,-7.9,-7.7,-7.5,-7.8,-7.6,-7.7,-7.5,-7.8,-7.6,-7.5,-7.7,-7.6,-7.4,-7.7,-7.5,-7.6,-7.4,-7.6,-7.5,-7.3,-7.6,-7.4,-7.5,-7.3,-7.5,-7.4,-7.2,-7.5,-7.3,-7.4,-7.2,-7.4,-7.3,-7.1,-7.3,-7.2,-7.4,-7.2,-7.0,-7.3,-7.1,-7.2,-7.0,-7.2,-7.1,-6.9,-7.1,-7.0,-7.2,-7.0,-6.9,-7.1,-6.8,-7.0,-6.9,-7.1,-6.9,-6.8,-7.0,-6.9,-6.7,-6.9,-6.8,-7.0,-6.7,-6.9,-6.8,-6.6,-6.8,-6.7,-6.8,-6.6,-6.8,-6.7,-6.5,-6.7,-6.6,-6.7,-6.5,-6.6,-6.5,-6.4,-6.6,-6.5,-6.4,-6.6,-6.4,-6.5,-6.3,-6.4,-6.3,-6.4,-6.2,-6.3,-6.2,-6.3,-6.1,-6.2,-6.1,-6.0,-5.9,-6.0,-5.8,-5.7,-5.7]
bf_q1_lo = [-11.0,-10.6,-10.4,-10.2,-10.5,-10.0,-10.3,-9.9,-10.2,-9.8,-10.1,-9.7,-10.0,-9.6,-9.9,-9.7,-9.4,-9.8,-9.5,-9.8,-9.6,-9.4,-9.7,-9.5,-9.6,-9.3,-9.6,-9.4,-9.7,-9.3,-9.5,-9.4,-9.2,-9.5,-9.3,-9.4,-9.2,-9.5,-9.3,-9.1,-9.4,-9.2,-9.3,-9.1,-9.4,-9.2,-9.0,-9.3,-9.1,-9.2,-9.0,-9.3,-9.1,-8.9,-9.2,-9.0,-9.1,-8.9,-9.2,-9.0,-8.9,-9.1,-9.0,-8.8,-9.1,-8.9,-9.0,-8.8,-9.0,-8.9,-8.7,-9.0,-8.8,-8.9,-8.7,-8.9,-8.8,-8.6,-8.9,-8.7,-8.8,-8.6,-8.8,-8.7,-8.5,-8.7,-8.6,-8.8,-8.6,-8.4,-8.7,-8.5,-8.6,-8.4,-8.6,-8.5,-8.3,-8.5,-8.4,-8.6,-8.4,-8.3,-8.5,-8.2,-8.4,-8.3,-8.5,-8.3,-8.2,-8.4,-8.3,-8.1,-8.3,-8.2,-8.4,-8.1,-8.3,-8.2,-8.0,-8.2,-8.1,-8.2,-8.0,-8.2,-8.1,-7.9,-8.1,-8.0,-8.1,-7.9,-8.0,-7.9,-7.8,-8.0,-7.9,-7.8,-8.0,-7.8,-7.9,-7.7,-7.8,-7.7,-7.8,-7.6,-7.7,-7.6,-7.7,-7.5,-7.6,-7.5,-7.4,-7.3,-7.4,-7.2,-7.0,-6.9]
bf_q2_hi = [-9.8,-9.6,-9.4,-9.2,-9.5,-9.0,-9.3,-8.9,-9.2,-8.8,-9.1,-8.7,-9.0,-8.6,-8.9,-8.7,-8.4,-8.8,-8.5,-8.8,-8.6,-8.4,-8.7,-8.5,-8.6,-8.3,-8.6,-8.4,-8.7,-8.3,-8.5,-8.4,-8.2,-8.5,-8.3,-8.4,-8.2,-8.5,-8.3,-8.1,-8.4,-8.2,-8.3,-8.1,-8.4,-8.2,-8.0,-8.3,-8.1,-8.2,-8.0,-8.3,-8.1,-7.9,-8.2,-8.0,-8.1,-7.9,-8.2,-8.0,-7.9,-8.1,-8.0,-7.8,-8.1,-7.9,-8.0,-7.8,-8.0,-7.9,-7.7,-8.0,-7.8,-7.9,-7.7,-7.9,-7.8,-7.6,-7.9,-7.7,-7.8,-7.6,-7.8,-7.7,-7.5,-7.7,-7.6,-7.8,-7.6,-7.4,-7.7,-7.5,-7.6,-7.4,-7.6,-7.5,-7.3,-7.5,-7.4,-7.6,-7.4,-7.3,-7.5,-7.2,-7.4,-7.3,-7.5,-7.3,-7.2,-7.4,-7.3,-7.1,-7.3,-7.2,-7.4,-7.1,-7.3,-7.2,-7.0,-7.2,-7.1,-7.2,-7.0,-7.2,-7.1,-6.9,-7.1,-7.0,-7.1,-6.9,-7.0,-6.9,-6.8,-7.0,-6.9,-6.8,-7.0,-6.8,-6.9,-6.7,-6.8,-6.7,-6.8,-6.6,-6.7,-6.6,-6.7,-6.5,-6.6,-6.5,-6.4,-6.3,-6.4,-6.2,-6.0,-6.1]
bf_q2_lo = [-11.6,-11.2,-11.0,-10.8,-11.1,-10.6,-10.9,-10.5,-10.8,-10.4,-10.7,-10.3,-10.6,-10.2,-10.5,-10.3,-10.0,-10.4,-10.1,-10.4,-10.2,-10.0,-10.3,-10.1,-10.2,-9.9,-10.2,-10.0,-10.3,-9.9,-10.1,-10.0,-9.8,-10.1,-9.9,-10.0,-9.8,-10.1,-9.9,-9.7,-10.0,-9.8,-9.9,-9.7,-10.0,-9.8,-9.6,-9.9,-9.7,-9.8,-9.6,-9.9,-9.7,-9.5,-9.8,-9.6,-9.7,-9.5,-9.8,-9.6,-9.5,-9.7,-9.6,-9.4,-9.7,-9.5,-9.6,-9.4,-9.6,-9.5,-9.3,-9.6,-9.4,-9.5,-9.3,-9.5,-9.4,-9.2,-9.5,-9.3,-9.4,-9.2,-9.4,-9.3,-9.1,-9.3,-9.2,-9.4,-9.2,-9.0,-9.3,-9.1,-9.2,-9.0,-9.2,-9.1,-8.9,-9.1,-9.0,-9.2,-9.0,-8.9,-9.1,-8.8,-9.0,-8.9,-9.1,-8.9,-8.8,-9.0,-8.9,-8.7,-8.9,-8.8,-9.0,-8.7,-8.9,-8.8,-8.6,-8.8,-8.7,-8.8,-8.6,-8.8,-8.7,-8.5,-8.7,-8.6,-8.7,-8.5,-8.6,-8.5,-8.4,-8.6,-8.5,-8.4,-8.6,-8.4,-8.5,-8.3,-8.4,-8.3,-8.4,-8.2,-8.3,-8.2,-8.3,-8.1,-8.2,-8.1,-8.0,-7.9,-7.8,-7.6,-7.4,-7.2]
bf_q3_hi = [-10.2,-10.0,-9.8,-9.6,-9.9,-9.4,-9.7,-9.3,-9.6,-9.2,-9.5,-9.1,-9.4,-9.0,-9.3,-9.1,-8.8,-9.2,-8.9,-9.2,-9.0,-8.8,-9.1,-8.9,-9.0,-8.7,-9.0,-8.8,-9.1,-8.7,-8.9,-8.8,-8.6,-8.9,-8.7,-8.8,-8.6,-8.9,-8.7,-8.5,-8.8,-8.6,-8.7,-8.5,-8.8,-8.6,-8.4,-8.7,-8.5,-8.6,-8.4,-8.7,-8.5,-8.3,-8.6,-8.4,-8.5,-8.3,-8.6,-8.4,-8.3,-8.5,-8.4,-8.2,-8.5,-8.3,-8.4,-8.2,-8.4,-8.3,-8.1,-8.4,-8.2,-8.3,-8.1,-8.3,-8.2,-8.0,-8.3,-8.1,-8.2,-8.0,-8.2,-8.1,-7.9,-8.1,-8.0,-8.2,-8.0,-7.8,-8.1,-7.9,-8.0,-7.8,-8.0,-7.9,-7.7,-7.9,-7.8,-8.0,-7.8,-7.7,-7.9,-7.6,-7.8,-7.7,-7.9,-7.7,-7.6,-7.8,-7.7,-7.5,-7.7,-7.6,-7.8,-7.5,-7.7,-7.6,-7.4,-7.6,-7.5,-7.6,-7.4,-7.6,-7.5,-7.3,-7.5,-7.4,-7.5,-7.3,-7.4,-7.3,-7.2,-7.4,-7.3,-7.2,-7.4,-7.2,-7.3,-7.1,-7.2,-7.1,-7.2,-7.0,-7.1,-7.0,-7.1,-6.9,-7.0,-6.9,-6.8,-6.7,-6.6,-6.4,-6.2,-6.1]
bf_q3_lo = [-15.5,-13.0,-12.6,-13.2,-12.4,-12.0,-12.5,-11.8,-12.2,-11.6,-12.0,-11.5,-11.8,-11.3,-11.7,-11.4,-11.0,-11.5,-11.1,-11.5,-11.2,-10.9,-11.3,-11.0,-11.1,-10.7,-11.1,-10.8,-11.2,-10.7,-10.9,-10.8,-10.5,-10.9,-10.7,-10.8,-10.5,-10.9,-10.6,-10.4,-10.8,-10.5,-10.6,-10.4,-10.7,-10.5,-10.2,-10.6,-10.3,-10.5,-10.2,-10.6,-10.3,-10.1,-10.5,-10.2,-10.3,-10.1,-10.4,-10.2,-10.0,-10.3,-10.1,-9.9,-10.2,-10.0,-10.1,-9.9,-10.1,-10.0,-9.8,-10.1,-9.8,-10.0,-9.7,-9.9,-9.8,-9.6,-9.9,-9.7,-9.8,-9.6,-9.8,-9.7,-9.5,-9.7,-9.6,-9.8,-9.6,-9.4,-9.7,-9.5,-9.6,-9.4,-9.6,-9.5,-9.3,-9.5,-9.4,-9.6,-9.4,-9.3,-9.5,-9.2,-9.4,-9.3,-9.5,-9.3,-9.2,-9.4,-9.3,-9.1,-9.3,-9.2,-9.4,-9.1,-9.3,-9.2,-9.0,-9.2,-9.1,-9.2,-9.0,-9.2,-9.1,-8.9,-9.1,-9.0,-9.1,-8.9,-9.0,-8.9,-8.8,-9.0,-8.9,-8.8,-9.0,-8.8,-8.9,-8.7,-8.8,-8.7,-8.8,-8.6,-8.7,-8.6,-8.7,-8.5,-8.6,-8.5,-8.4,-8.3,-8.2,-8.0,-7.8,-7.5]

top_panels = [
    dict(ax="", lo=[tq_q0_lo, tq_q1_lo, tq_q2_lo, tq_q3_lo], hi=[tq_q0_hi, tq_q1_hi, tq_q2_hi, tq_q3_hi]),
    dict(ax="2", lo=[th_q0_lo, th_q1_lo, th_q2_lo, th_q3_lo], hi=[th_q0_hi, th_q1_hi, th_q2_hi, th_q3_hi]),
    dict(ax="3", lo=[tf_q0_lo, tf_q1_lo, tf_q2_lo, tf_q3_lo], hi=[tf_q0_hi, tf_q1_hi, tf_q2_hi, tf_q3_hi]),
]
bot_panels = [
    dict(ax="4", lo=[bq_q0_lo, bq_q1_lo, bq_q2_lo, bq_q3_lo], hi=[bq_q0_hi, bq_q1_hi, bq_q2_hi, bq_q3_hi]),
    dict(ax="5", lo=[bh_q0_lo, bh_q1_lo, bh_q2_lo, bh_q3_lo], hi=[bh_q0_hi, bh_q1_hi, bh_q2_hi, bh_q3_hi]),
    dict(ax="6", lo=[bf_q0_lo, bf_q1_lo, bf_q2_lo, bf_q3_lo], hi=[bf_q0_hi, bf_q1_hi, bf_q2_hi, bf_q3_hi]),
]
TOP_OFFS = [-0.45, -0.15, 0.15, 0.45]
BOT_OFFS = [-0.3, -0.1, 0.1, 0.3]

fig = go.Figure()

# beta panels: one vertical segment + end circles per box
for p in top_panels:
    xa, ya = "x" + p["ax"], "y" + p["ax"]
    for q in range(4):
        xs = [c + TOP_OFFS[q] for c in beta_cats]
        X, Y = [], []
        for x, a, b in zip(xs, p["lo"][q], p["hi"][q]):
            X += [x, x, None]
            Y += [a, b, None]
        fig.add_trace(go.Scatter(x=X, y=Y, mode="lines", xaxis=xa, yaxis=ya, showlegend=False,
                                 hoverinfo="skip", line=dict(color=COLORS[q], width=2.4)))
        fig.add_trace(go.Scatter(x=xs + xs, y=p["lo"][q] + p["hi"][q], mode="markers",
                                 xaxis=xa, yaxis=ya, showlegend=False, hoverinfo="skip",
                                 marker=dict(symbol="circle-open", color=COLORS[q], size=6,
                                             line=dict(color=COLORS[q], width=2))))

# b panels: boxes drawn interleaved (category by category, Q0..Q3) as thin floating bars
for p in bot_panels:
    xa, ya = "x" + p["ax"], "y" + p["ax"]
    bx, bbase, blen, bcol = [], [], [], []
    mx, my, mcol = [], [], []
    for j, c in enumerate(b_cats):
        for q in range(4):
            lo, hi = p["lo"][q][j], p["hi"][q][j]
            bx.append(c + BOT_OFFS[q])
            bbase.append(lo)
            blen.append(hi - lo)
            bcol.append(COLORS[q])
            mx += [c + BOT_OFFS[q], c + BOT_OFFS[q]]
            my += [lo, hi]
            mcol += [COLORS[q], COLORS[q]]
    fig.add_trace(go.Bar(x=bx, y=blen, base=bbase, width=0.75, xaxis=xa, yaxis=ya,
                         showlegend=False, hoverinfo="skip",
                         marker=dict(color=bcol, line=dict(width=0))))
    fig.add_trace(go.Scatter(x=mx, y=my, mode="markers", xaxis=xa, yaxis=ya, showlegend=False,
                             hoverinfo="skip",
                             marker=dict(symbol="circle-open", color=mcol, size=3.5,
                                         line=dict(color=mcol, width=1))))

W, H = 905, 707
cols = [(37, 287), (352, 601), (658, 905)]
top_rows = (43, 313)
bot_rows = (428, 682)


def dom_x(c):
    return [cols[c][0] / W, min(cols[c][1] / W, 1.0)]


def dom_y(r):
    return [1 - r[1] / H, 1 - r[0] / H]


axis_common = dict(showline=True, mirror=True, linecolor="black", linewidth=1,
                   ticks="outside", tickcolor="black", showgrid=False, zeroline=False,
                   automargin=False, tickfont=dict(family=FONT, size=14, color="black"))

y_specs = [
    ([-0.873, 0.648], [-0.8, -0.6, -0.4, -0.2, 0.0, 0.2, 0.4, 0.6],
     ["-0.8", "", "-0.4", "", "0.0", "0.2", "0.4", "0.6"]),
    ([-0.84, 0.505], [-0.8, -0.6, -0.4, -0.2, 0.0, 0.2, 0.4],
     ["-0.8", "-0.6", "-0.4", "-0.2", "0.0", "0.2", "0.4"]),
    ([-0.763, 0.558], [-0.6, -0.4, -0.2, 0.0, 0.2, 0.4],
     ["-0.6", "-0.4", "-0.2", "0.0", "0.2", "0.4"]),
    ([-17.58, -4.21], [-16, -14, -12, -10, -8, -6], ["-16", "-14", "-12", "-10", "-8", "-6"]),
    ([-15.33, -4.36], [-14, -12, -10, -8, -6], ["-14", "-12", "-10", "-8", "-6"]),
    ([-15.78, -4.49], [-14, -12, -10, -8, -6], ["-14", "-12", "-10", "-8", "-6"]),
]

layout = dict(width=W, height=H, margin=dict(l=0, r=0, t=0, b=0, autoexpand=False),
              paper_bgcolor="white", plot_bgcolor="white", barmode="overlay", bargap=0,
              font=dict(family=FONT, color="black"), showlegend=False)

annotations = []
for k in range(6):
    c = k % 3
    sfx = "" if k == 0 else str(k + 1)
    top = k < 3
    if top:
        xax = dict(axis_common, domain=dom_x(c), range=[-0.78, 33.78],
                   tickmode="array", tickvals=beta_cats, ticktext=beta_ticktext,
                   tickangle=-90, ticklen=6, anchor="y" + sfx)
    else:
        xax = dict(axis_common, domain=dom_x(c), range=[-5.74, 162.74],
                   tickmode="array", tickvals=b_cats, ticktext=[""] * len(b_cats),
                   tickangle=0, ticklen=5, anchor="y" + sfx)
        # end labels b_1 and b_156 placed at their category positions under the axis
        for n, (cat, lab) in enumerate(zip([b_cats[0], b_cats[-1]], b_end_labels)):
            last_edge = (k == 5 and n == 1)  # keep the right-most label inside the window
            annotations.append(dict(text=lab, x=cat, xref="x" + sfx, y=1 - 686 / H, yref="paper",
                                    xanchor="right" if last_edge else "center",
                                    xshift=10 if last_edge else 0,
                                    yanchor="top", showarrow=False,
                                    font=dict(family=FONT, size=16, color="black")))
    rng, tv, tt = y_specs[k]
    yax = dict(axis_common, domain=dom_y(top_rows if top else bot_rows), range=rng,
               tickmode="array", tickvals=tv, ticktext=tt, tickangle=-90, ticklen=7,
               anchor="x" + sfx)
    layout["xaxis" + sfx] = xax
    layout["yaxis" + sfx] = yax

titles = ["beta (quarter sample)", "beta (half sample)", "beta (full sample)",
          "b (quarter sample)", "b (half sample)", "b (full sample)"]
title_x = [160, 476, 780]
for k, t in enumerate(titles):
    c = k % 3
    yy = 18 if k < 3 else 412
    annotations.append(dict(text="<b>%s</b>" % t, x=title_x[c] / W, y=1 - yy / H,
                            xref="paper", yref="paper", xanchor="center", yanchor="middle",
                            showarrow=False, font=dict(family=FONT, size=20, color="black")))

# legend box (top-left panel)
shapes = [dict(type="rect", xref="paper", yref="paper", x0=192 / W, x1=275 / W,
               y0=1 - 302 / H, y1=1 - 226 / H, line=dict(color="black", width=1),
               fillcolor="white", layer="above")]
leg_rows = [241, 259, 277, 295]
for q in range(4):
    cy = leg_rows[q]
    shapes.append(dict(type="circle", xref="paper", yref="paper", x0=204 / W, x1=210 / W,
                       y0=1 - (cy + 3) / H, y1=1 - (cy - 3) / H,
                       line=dict(color=COLORS[q], width=2), layer="above"))
    annotations.append(dict(text=Q_NAMES[q], x=220 / W, y=1 - cy / H, xref="paper", yref="paper",
                            xanchor="left", yanchor="middle", showarrow=False,
                            font=dict(family=FONT, size=16, color="black")))
layout["annotations"] = annotations
layout["shapes"] = shapes

fig.update_layout(**layout)
# the default page adds an 8px body margin; remove it so the figure fills the window exactly
fig.write_html("out.html", config={"displayModeBar": False},
               post_script="document.body.style.margin='0px';")
